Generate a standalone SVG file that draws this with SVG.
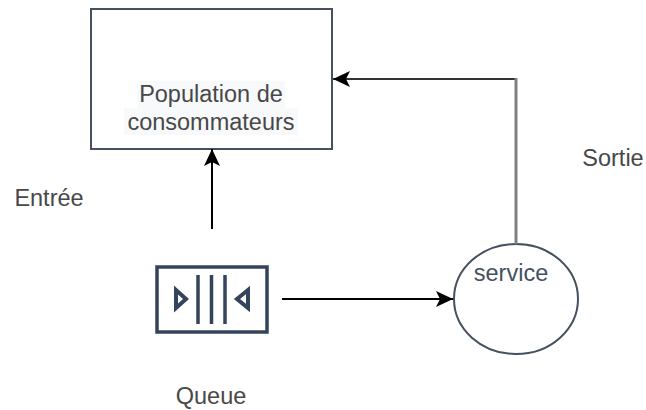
<svg xmlns="http://www.w3.org/2000/svg" width="646" height="410" viewBox="0 0 646 410">
<style>
text{font-family:"Liberation Sans",Arial,sans-serif;font-size:23.500px;fill:#484848;text-anchor:middle}
.shape{fill:#fff;stroke:#46505f;stroke-width:2}
.icon{fill:none;stroke:#34445a;stroke-width:3.500}
.c{fill:none;stroke:#000;stroke-width:2}
</style>
<defs>
<marker id="arrow" markerUnits="userSpaceOnUse" markerWidth="20" markerHeight="20" refX="17" refY="10" orient="auto">
<path d="M0 2L17 10L0 18L4 10Z" fill="#000"/>
</marker>
</defs>
<rect width="646" height="410" fill="#fff"/>
<g id="population">
<rect class="shape" x="91" y="9" width="241" height="140"/>
<rect x="137" y="81" width="148" height="27" fill="#f8f9fa"/>
<rect x="124" y="108" width="174" height="27" fill="#f8f9fa"/>
<text x="211" y="102">Population de</text>
<text x="211" y="130">consommateurs</text>
</g>
<g id="queue">
<rect class="icon" x="157" y="267" width="110" height="65"/>
<path class="icon" d="M198 275V324M211.500 275V324M225 275V324"/>
<path class="icon" style="stroke-width:4" d="M176 290L186 299L176 308Z"/>
<path class="icon" style="stroke-width:4" d="M248 290L237 299L248 308Z"/>
<text x="211" y="404">Queue</text>
</g>
<g id="service">
<ellipse class="shape" cx="516" cy="299" rx="62" ry="55"/>
<text x="511" y="281" style="fill:#46505f">service</text>
</g>
<g id="connectors">
<path class="c" d="M212 229V149" marker-end="url(#arrow)"/>
<path class="c" d="M282 299H453" marker-end="url(#arrow)"/>
<path class="c" d="M516 79H333" marker-end="url(#arrow)" style="stroke:#333"/>
<path class="c" d="M516 244V78" style="stroke:#808080;stroke-width:3"/>
</g>
<g id="labels">
<text x="49" y="206">Entrée</text>
<text x="613" y="166">Sortie</text>
</g>
</svg>
